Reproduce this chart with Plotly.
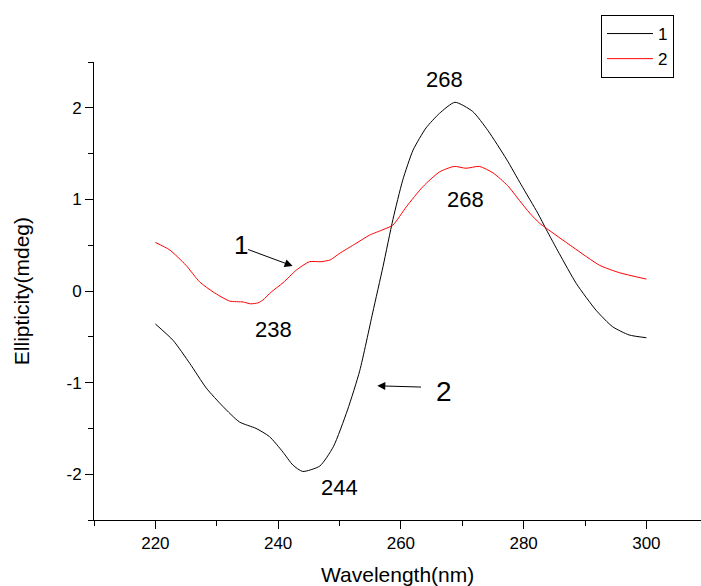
import plotly.graph_objects as go

# Series 1 (black)
wl1 = [220, 222.9, 225.6, 228.3, 231, 233.7, 236.4, 238.6, 240.8, 242.4, 244, 246.8, 249, 251.3, 253.3,
       255.4, 257.1, 258.7, 260.3, 262, 264.1, 266.3, 268.8, 271.7, 274.2, 277.2, 279.6, 282.3, 283.7, 285.8,
       288.6, 291.8, 294.5, 297.2, 300]
ell1 = [-0.36, -0.54, -0.79, -1.06, -1.26, -1.43, -1.50, -1.59, -1.76, -1.90, -1.97, -1.91, -1.70, -1.30, -0.87,
        -0.24, 0.27, 0.78, 1.21, 1.54, 1.78, 1.94, 2.06, 1.96, 1.75, 1.44, 1.16, 0.85, 0.67, 0.41,
        0.08, -0.21, -0.39, -0.48, -0.51]

# Series 2 (red)
wl2 = [220, 222.3, 225, 227.2, 229.4, 232.1, 234.3, 235.5, 236.7, 237.5, 238.9, 240.8, 243, 245.1, 247,
       248.5, 250, 252.7, 254.9, 257.1, 258.7, 260.9, 263.6, 266.3, 268.7, 270.6, 272.8, 275, 277.4, 279.3,
       281, 282.6, 283.7, 288, 292.4, 295.6, 300]
ell2 = [0.53, 0.45, 0.28, 0.10, -0.01, -0.11, -0.12, -0.14, -0.13, -0.10, -0.01, 0.09, 0.23, 0.32, 0.32,
        0.34, 0.41, 0.52, 0.61, 0.67, 0.72, 0.92, 1.14, 1.30, 1.36, 1.34, 1.36, 1.29, 1.15, 0.99,
        0.85, 0.74, 0.685, 0.48, 0.28, 0.20, 0.13]

x_ticks = [220, 240, 260, 280, 300]
x_ticktext = ["220", "240", "260", "280", "300"]
y_ticks = [-2, -1, 0, 1, 2]
y_ticktext = ["-2", "-1", "0", "1", "2"]

FONT = "Liberation Sans, Arial, sans-serif"

fig = go.Figure()
fig.add_trace(go.Scatter(x=wl1, y=ell1, mode="lines", name="1",
                         line=dict(color="black", width=1, shape="spline", smoothing=0.6)))
fig.add_trace(go.Scatter(x=wl2, y=ell2, mode="lines", name="2",
                         line=dict(color="red", width=1, shape="spline", smoothing=0.6)))

labels = [
    ("268", 267.1, 2.31, 22),
    ("268", 270.5, 0.995, 22),
    ("238", 239.3, -0.415, 22),
    ("244", 250.0, -2.14, 22),
    ("1", 233.9, 0.50, 26),
    ("2", 267.1, -1.10, 28),
]
for txt, xx, yy, fs in labels:
    fig.add_annotation(x=xx, y=yy, text=txt, showarrow=False,
                       font=dict(family=FONT, size=fs, color="black"))

arrows = [
    (242.36, 0.273, 234.87, 0.459),
    (256.16, -1.035, 263.53, -1.049),
]
for hx, hy, tx, ty in arrows:
    fig.add_annotation(x=hx, y=hy, ax=tx, ay=ty, axref="x", ayref="y", text="",
                       showarrow=True, arrowhead=2, arrowsize=1.6, arrowwidth=1, arrowcolor="black")

# axis titles placed as annotations (paper coords)
fig.add_annotation(x=0.5, y=-0.119, xref="paper", yref="paper", text="Wavelength(nm)", showarrow=False,
                   xanchor="center", yanchor="middle", font=dict(family=FONT, size=21, color="black"))
fig.add_annotation(x=-0.12, y=0.5, xref="paper", yref="paper", text="Ellipticity(mdeg)", showarrow=False,
                   textangle=-90, xanchor="center", yanchor="middle",
                   font=dict(family=FONT, size=21, color="black"))

fig.update_layout(
    width=701, height=586,
    margin=dict(l=94, r=0, t=62, b=66, autoexpand=False),
    paper_bgcolor="white", plot_bgcolor="white",
    font=dict(family=FONT, size=18, color="black"),
    showlegend=True,
    legend=dict(x=601 / 701, y=1 - 15 / 586, xref="container", yref="container",
                xanchor="left", yanchor="top", itemwidth=46,
                bordercolor="black", borderwidth=1, bgcolor="white",
                font=dict(family=FONT, size=17), tracegroupgap=0),
    xaxis=dict(range=[210, 308.9], tickvals=x_ticks, ticktext=x_ticktext, ticks="outside", ticklen=8,
               tickcolor="black", automargin=False,
               showline=True, linecolor="black", linewidth=1, showgrid=False, zeroline=False,
               tickfont=dict(family=FONT, size=17),
               minor=dict(dtick=10, tick0=210, ticks="outside", ticklen=5, tickcolor="black")),
    yaxis=dict(range=[-2.5, 2.5], tickvals=y_ticks, ticktext=y_ticktext, ticks="outside", ticklen=8,
               tickcolor="black", automargin=False,
               showline=True, linecolor="black", linewidth=1, showgrid=False, zeroline=False,
               tickfont=dict(family=FONT, size=17),
               minor=dict(dtick=0.5, tick0=-2.5, ticks="outside", ticklen=5, tickcolor="black")),
)

fig.write_html("out.html", config={"displayModeBar": False},
               post_script="document.body.style.margin='0';document.body.style.overflow='hidden';")
